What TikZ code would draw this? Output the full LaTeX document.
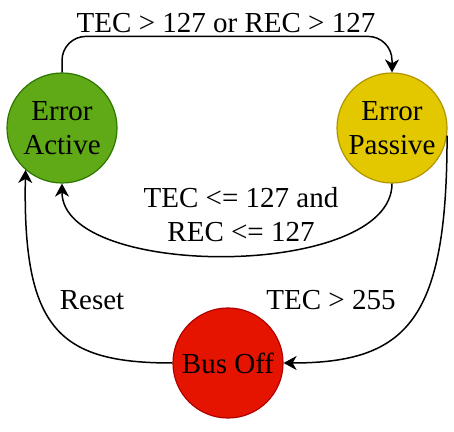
\documentclass[tikz,border=0pt]{standalone}
\usepackage{fontspec}
\setmainfont{Liberation Serif}
\usetikzlibrary{arrows.meta}
\tikzstyle{diagram} = [x = 0.5pt, y = -0.5pt]
\definecolor{activeFill}{RGB}{96,169,23}
\definecolor{activeLine}{RGB}{45,118,0}
\definecolor{passiveFill}{RGB}{227,200,0}
\definecolor{passiveLine}{RGB}{176,149,0}
\definecolor{busOffFill}{RGB}{229,20,0}
\definecolor{busOffLine}{RGB}{178,0,0}
\newcommand{\labelFont}{\fontsize{14.5}{17}\selectfont}
\tikzstyle{stateStyle} = [circle, minimum size = 55pt, inner sep = 0pt, align = center, line width = 0.6pt]
\tikzstyle{edgeStyle} = [line width = 0.75pt, -{Stealth[length = 6.5pt, width = 7pt, inset = 2pt]}]
\tikzstyle{edgeText} = [anchor = base, align = center]
\newcommand{\stateNode}[5]{\node [stateStyle, fill = #4, draw = #5] (#1) at (#2) {#3};}
\begin{document}
\begin{tikzpicture}[diagram, every node/.style = {font = \labelFont}]
  \useasboundingbox (0,0) rectangle (454,432);
  \stateNode{active}{62,128}{Error\\Active}{activeFill}{activeLine}
  \stateNode{passive}{392,128}{Error\\Passive}{passiveFill}{passiveLine}
  \stateNode{busOff}{228,363}{Bus Off}{busOffFill}{busOffLine}

  \draw [edgeStyle, rounded corners = 12pt] (active.north) -- ++(0,-36) -| (passive.north);
  \draw [edgeStyle] (passive.south) .. controls +(0,96) and +(0,96) .. (active.south);
  \draw [edgeStyle] (busOff.west) .. controls +(-113,0) and +(-3,160) .. (active.229);
  \draw [edgeStyle] (passive.-8) .. controls +(0,183) and +(125,0) .. (busOff.east);

  \node [edgeText] (upText) at (226,33) {TEC > 127 or REC > 127};
  \node [edgeText] (backText) at (241,242) {TEC <= 127 and\\REC <= 127};
  \node [edgeText] (resetText) at (92,309) {Reset};
  \node [edgeText] (busText) at (331,309) {TEC > 255};
\end{tikzpicture}
\end{document}
